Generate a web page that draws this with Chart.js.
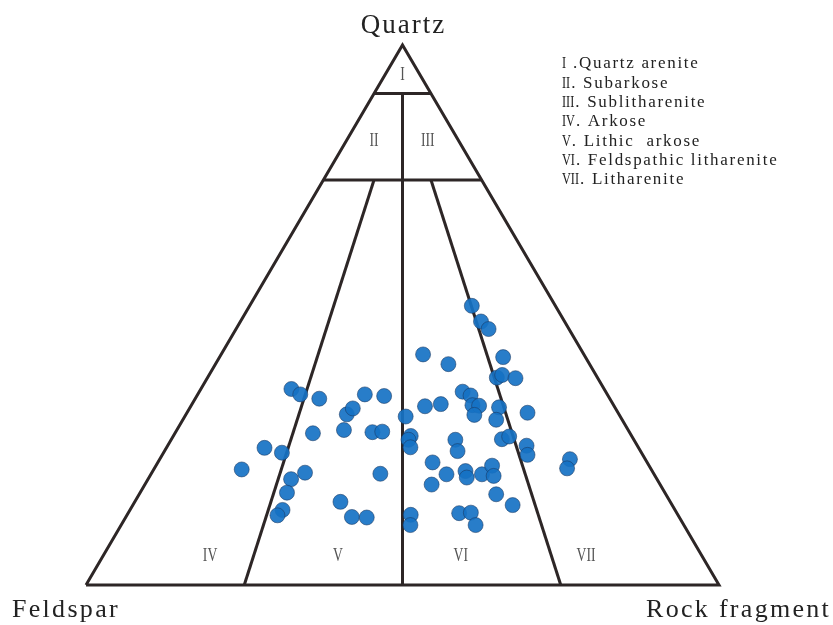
<!DOCTYPE html>
<html>
<head>
<meta charset="utf-8">
<title>Q-F-R sandstone classification</title>
<script src="https://cdn.jsdelivr.net/npm/chart.js@4.4.1/dist/chart.umd.min.js"></script>
<style>
  html, body { margin: 0; padding: 0; background: #ffffff; }
  #wrap { width: 833px; height: 625px; position: relative; }
</style>
</head>
<body>
<div id="wrap"><canvas id="c" width="833" height="625"></canvas></div>
<script>
// Sample compositions (% quartz, feldspar, rock fragment)
const quartz = [21.4,25.4,24.5,36.3,35.3,34.5,28.1,19.6,20.8,17.1,13.9,12.9,15.4,12.6,12.5,20.6,31.6,32.7,35.3,35.0,28.7,28.3,28.4,31.2,51.7,48.8,47.4,42.7,40.9,42.2,38.4,38.9,38.3,35.8,35.1,33.3,33.2,31.5,32.9,30.6,31.9,33.1,33.5,27.6,26.9,25.5,26.9,24.8,22.7,20.5,18.6,21.1,19.9,20.5,22.1,20.2,16.8,14.8,13.3,13.4,11.1,13.0,11.1,27.0,27.5,25.8,24.1,23.3,21.6];
const feldspar = [64.7,59.1,56.8,49.4,48.5,45.9,50.1,57.8,55.0,59.7,62.0,63.3,52.1,51.7,49.4,43.2,43.0,41.5,38.3,35.4,44.9,40.6,39.0,33.9,13.2,13.2,12.7,25.4,22.3,13.0,15.9,14.8,13.0,22.6,21.7,22.3,21.3,22.9,18.3,19.9,14.3,29.9,27.2,34.9,35.6,36.0,28.2,28.9,33.9,32.8,36.1,29.5,29.9,27.2,24.8,25.5,26.8,25.2,34.4,32.5,32.9,42.2,43.2,20.8,19.4,17.5,18.2,11.9,13.2];
const rockFragment = [13.9,15.5,18.7,14.3,16.2,19.6,21.8,22.6,24.2,23.2,24.1,23.8,32.5,35.7,38.1,36.2,25.4,25.8,26.4,29.6,26.4,31.1,32.6,34.9,35.1,38.0,39.9,31.9,36.8,44.8,45.7,46.3,48.7,41.6,43.2,44.4,45.5,45.6,48.8,49.5,53.8,37.0,39.3,37.5,37.5,38.5,44.9,46.3,43.4,46.7,45.3,49.4,50.2,52.3,53.1,54.3,56.4,60.0,52.3,54.1,56.0,44.8,45.7,52.2,53.1,56.7,57.7,64.8,65.2];

// Apex names and classification fields
const apexNames = ['Quartz', 'Feldspar', 'Rock fragment'];
const fieldNumerals = ['I', 'II', 'III', 'IV', 'V', 'VI', 'VII'];
const fieldNames = [' .Quartz arenite', '. Subarkose', '. Sublitharenite', '. Arkose', '. Lithic  arkose', '. Feldspathic litharenite', '. Litharenite'];
// Field label anchors as [Q, F, R]
const fieldLabelQFR = [[94.4,2.8,2.8],[82.2,13.4,4.4],[82.2,4.9,12.9],[5.4,77.7,16.9],[5.4,57.5,37.1],[5.4,38.1,56.5],[5.4,18.3,76.3]];
// Field boundaries as pairs of [Q, F, R] end points
const triangleOutline = [[0,100,0],[0,0,100],[100,0,0],[0,100,0]];
const boundaryLines = [
  [[91,9,0],[91,0,9]],
  [[75,25,0],[75,0,25]],
  [[91,4.5,4.5],[0,50,50]],
  [[75,17,8],[0,75,25]],
  [[75,8,17],[0,25,75]]
];

// Ternary composition -> cartesian (F corner at 0,0; R at 100,0; Q apex at 50,100)
function toXY(q, f, r) {
  const s = q + f + r;
  q = q / s * 100; r = r / s * 100;
  return { x: r + q / 2, y: q };
}

const samplePoints = quartz.map((q, i) => toXY(q, feldspar[i], rockFragment[i]));

const LINE_COLOR = '#2d2626';
const SERIF = '"Liberation Serif", "DejaVu Serif", serif';
const lineDatasets = [triangleOutline].concat(boundaryLines).map(seg => ({
  type: 'scatter',
  data: seg.map(p => toXY(p[0], p[1], p[2])),
  showLine: true,
  borderColor: LINE_COLOR,
  borderWidth: 3,
  pointRadius: 0,
  fill: false,
  order: 2,
  clip: false,
  borderJoinStyle: 'miter'
}));

// Narrow roman numerals; returns drawn width
function drawNumeral(ctx, text, x, y, size, align) {
  const squeeze = 0.72;
  ctx.save();
  ctx.font = size + 'px ' + SERIF;
  ctx.letterSpacing = '0px';
  const w = ctx.measureText(text).width * squeeze;
  const left = align === 'center' ? x - w / 2 : x;
  ctx.translate(left, y);
  ctx.scale(squeeze, 1);
  ctx.textAlign = 'left';
  ctx.fillText(text, 0, 0);
  ctx.restore();
  return w;
}

const labelPlugin = {
  id: 'ternaryLabels',
  afterDraw(chart) {
    const ctx = chart.ctx;
    const xs = chart.scales.x, ys = chart.scales.y;
    ctx.save();
    // field numerals inside the triangle
    ctx.fillStyle = '#555555';
    ctx.textBaseline = 'middle';
    fieldLabelQFR.forEach((p, i) => {
      const xy = toXY(p[0], p[1], p[2]);
      drawNumeral(ctx, fieldNumerals[i], xs.getPixelForValue(xy.x), ys.getPixelForValue(xy.y), 19, 'center');
    });
    // apex names
    ctx.fillStyle = '#222222';
    ctx.textBaseline = 'alphabetic';
    ctx.textAlign = 'left';
    ctx.font = '27px ' + SERIF;
    ctx.letterSpacing = '2px';
    const qw = ctx.measureText(apexNames[0]).width - 2;
    const top = toXY(100, 0, 0);
    ctx.fillText(apexNames[0], xs.getPixelForValue(top.x) - qw / 2, 33);
    ctx.font = '26px ' + SERIF;
    ctx.letterSpacing = '2.3px';
    ctx.fillText(apexNames[1], 12, 617);
    ctx.fillText(apexNames[2], 646, 617);
    // key to the fields
    ctx.fillStyle = '#222222';
    fieldNames.forEach((name, i) => {
      const y = 68.3 + i * 19.3;
      const w = drawNumeral(ctx, fieldNumerals[i], 562, y, 17, 'left');
      ctx.font = '17px ' + SERIF;
      ctx.letterSpacing = '1.7px';
      ctx.textAlign = 'left';
      ctx.fillText(name, 562 + w + 1, y);
    });
    ctx.restore();
  }
};

new Chart(document.getElementById('c'), {
  type: 'scatter',
  data: {
    datasets: [{
      label: 'Samples',
      data: samplePoints,
      pointRadius: 7.5,
      pointHoverRadius: 7.5,
      backgroundColor: 'rgba(22,114,196,0.92)',
      borderColor: 'rgba(25,55,95,0.55)',
      borderWidth: 1,
      order: 1,
      clip: false
    }].concat(lineDatasets)
  },
  options: {
    responsive: false,
    animation: false,
    layout: { padding: { left: 86, right: 114, top: 45, bottom: 40 } },
    scales: {
      x: { type: 'linear', min: 0, max: 100, display: false },
      y: { type: 'linear', min: 0, max: 100, display: false }
    },
    plugins: {
      legend: { display: false },
      tooltip: { enabled: false }
    }
  },
  plugins: [labelPlugin]
});
</script>
</body>
</html>
